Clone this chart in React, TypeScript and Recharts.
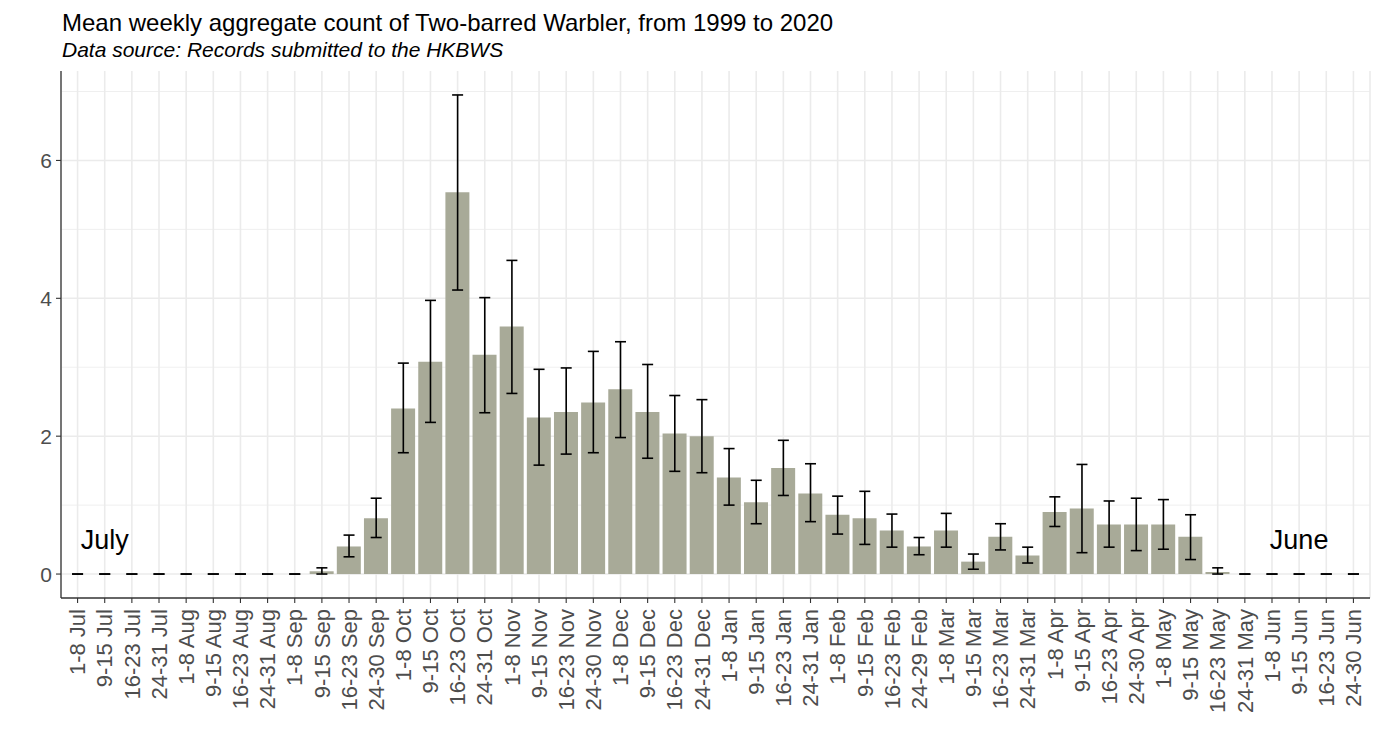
import {
  Bar,
  CartesianGrid,
  ComposedChart,
  ErrorBar,
  Line,
  ReferenceDot,
  XAxis,
  YAxis,
} from "recharts";

const weeks = [
  "1-8 Jul", "9-15 Jul", "16-23 Jul", "24-31 Jul",
  "1-8 Aug", "9-15 Aug", "16-23 Aug", "24-31 Aug",
  "1-8 Sep", "9-15 Sep", "16-23 Sep", "24-30 Sep",
  "1-8 Oct", "9-15 Oct", "16-23 Oct", "24-31 Oct",
  "1-8 Nov", "9-15 Nov", "16-23 Nov", "24-30 Nov",
  "1-8 Dec", "9-15 Dec", "16-23 Dec", "24-31 Dec",
  "1-8 Jan", "9-15 Jan", "16-23 Jan", "24-31 Jan",
  "1-8 Feb", "9-15 Feb", "16-23 Feb", "24-29 Feb",
  "1-8 Mar", "9-15 Mar", "16-23 Mar", "24-31 Mar",
  "1-8 Apr", "9-15 Apr", "16-23 Apr", "24-30 Apr",
  "1-8 May", "9-15 May", "16-23 May", "24-31 May",
  "1-8 Jun", "9-15 Jun", "16-23 Jun", "24-30 Jun",
];

// mean weekly count
const means = [
  0, 0, 0, 0, 0, 0, 0, 0, 0, 0.04, 0.4, 0.81,
  2.4, 3.08, 5.54, 3.18, 3.59, 2.27, 2.35, 2.49, 2.68, 2.35, 2.04, 2.0,
  1.4, 1.04, 1.54, 1.17, 0.86, 0.81, 0.63, 0.4, 0.63, 0.18, 0.54, 0.27,
  0.9, 0.95, 0.72, 0.72, 0.72, 0.54, 0.03, 0, 0, 0, 0, 0,
];

// error bar ends
const lower = [
  0, 0, 0, 0, 0, 0, 0, 0, 0, 0, 0.25, 0.53,
  1.76, 2.2, 4.12, 2.34, 2.62, 1.58, 1.74, 1.76, 1.98, 1.68, 1.49, 1.47,
  1.0, 0.73, 1.14, 0.76, 0.58, 0.43, 0.39, 0.28, 0.39, 0.07, 0.35, 0.16,
  0.69, 0.31, 0.39, 0.34, 0.36, 0.21, 0, 0, 0, 0, 0, 0,
];
const upper = [
  0, 0, 0, 0, 0, 0, 0, 0, 0, 0.09, 0.565, 1.1,
  3.06, 3.97, 6.95, 4.01, 4.55, 2.97, 2.99, 3.23, 3.37, 3.04, 2.59, 2.53,
  1.82, 1.36, 1.94, 1.6, 1.13, 1.2, 0.87, 0.53, 0.88, 0.29, 0.73, 0.39,
  1.12, 1.59, 1.06, 1.1, 1.08, 0.86, 0.09, 0, 0, 0, 0, 0,
];

const yTicks = [0, 2, 4, 6];
const yMinor = [1, 3, 5, 7];

const data = weeks.map((week, i) => ({
  week,
  mean: means[i],
  err: [means[i] - lower[i], upper[i] - means[i]],
}));

const font = "'Liberation Sans', Arial, sans-serif";
const axisColor = "#333333";
const labelColor = "#4d4d4d";
const yDomain = [-0.3475, 7.2975];

function WeekTick({ x, y, payload }: any) {
  return (
    <g transform={`translate(${x},${y})`}>
      <text
        transform="rotate(-90)"
        x={0}
        y={0}
        dy="0.35em"
        textAnchor="end"
        fill={labelColor}
        fontSize={22}
        fontFamily={font}
      >
        {payload.value}
      </text>
    </g>
  );
}

export default function App() {
  return (
    <div
      style={{
        position: "absolute",
        left: 0,
        top: 0,
        width: 1380,
        height: 751,
        background: "#fff",
        fontFamily: font,
      }}
    >
      <svg
        width={1380}
        height={70}
        style={{ position: "absolute", left: 0, top: 0 }}
      >
        <text x={62} y={31} fontSize={24} fill="#000" fontFamily={font}>
          Mean weekly aggregate count of Two-barred Warbler, from 1999 to 2020
        </text>
        <text
          x={62}
          y={57}
          fontSize={21}
          fontStyle="italic"
          fill="#000"
          fontFamily={font}
        >
          Data source: Records submitted to the HKBWS
        </text>
      </svg>
      <ComposedChart
        width={1380}
        height={751}
        data={data}
        margin={{ top: 71, right: 10, bottom: 3, left: 0 }}
        barCategoryGap="5%"
      >
        <CartesianGrid
          horizontalValues={yMinor}
          vertical={false}
          stroke="#ebebeb"
          strokeWidth={0.8}
        />
        <CartesianGrid
          horizontalValues={yTicks}
          stroke="#ebebeb"
          strokeWidth={1.6}
        />
        <XAxis
          dataKey="week"
          interval={0}
          height={150}
          padding={{ left: 3, right: 3 }}
          tick={<WeekTick />}
          tickSize={5}
          tickMargin={6}
          stroke={axisColor}
          axisLine={{ stroke: axisColor, strokeWidth: 1.3 }}
          tickLine={{ stroke: axisColor, strokeWidth: 1.1 }}
        />
        <XAxis
          xAxisId="top"
          orientation="top"
          dataKey="week"
          height={0}
          tick={false}
          tickLine={false}
          axisLine={{ stroke: axisColor, strokeWidth: 1.3 }}
        />
        <YAxis
          type="number"
          domain={yDomain}
          ticks={yTicks}
          width={61}
          tickSize={5}
          tickMargin={4}
          tick={{ fill: labelColor, fontSize: 21, fontFamily: font }}
          axisLine={{ stroke: axisColor, strokeWidth: 1.3 }}
          tickLine={{ stroke: axisColor, strokeWidth: 1.1 }}
        />
        <YAxis
          yAxisId="right"
          orientation="right"
          type="number"
          domain={yDomain}
          width={0}
          tick={false}
          tickLine={false}
          axisLine={{ stroke: axisColor, strokeWidth: 1.3 }}
        />
        <Bar dataKey="mean" fill="#a8aa98" isAnimationActive={false} />
        <Line
          dataKey="mean"
          stroke="none"
          dot={false}
          activeDot={false}
          isAnimationActive={false}
        >
          <ErrorBar
            dataKey="err"
            direction="y"
            width={5.5}
            stroke="#000"
            strokeWidth={1.6}
            isAnimationActive={false}
          />
        </Line>
        <ReferenceDot
          x="9-15 Jul"
          y={0.5}
          r={0}
          fill="none"
          stroke="none"
          label={{
            value: "July",
            position: "center",
            fontSize: 27,
            fill: "#000",
            fontFamily: font,
          }}
        />
        <ReferenceDot
          x="9-15 Jun"
          y={0.5}
          r={0}
          fill="none"
          stroke="none"
          label={{
            value: "June",
            position: "center",
            fontSize: 27,
            fill: "#000",
            fontFamily: font,
          }}
        />
      </ComposedChart>
    </div>
  );
}
